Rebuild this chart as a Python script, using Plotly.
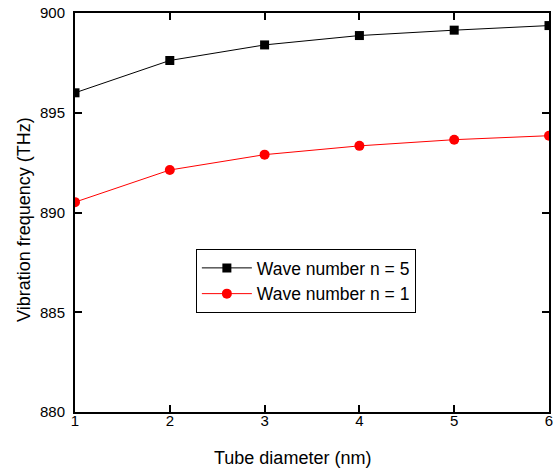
import plotly.graph_objects as go

diameter = [1, 2, 3, 4, 5, 6]
freq_n5 = [896.0, 897.62, 898.40, 898.87, 899.14, 899.37]
freq_n1 = [890.52, 892.13, 892.90, 893.34, 893.65, 893.85]

fig = go.Figure()
fig.add_trace(go.Scatter(
    x=diameter, y=freq_n5, mode="lines+markers", name="Wave number n = 5",
    line=dict(color="black", width=1),
    marker=dict(symbol="square", size=9, color="black"),
))
fig.add_trace(go.Scatter(
    x=diameter, y=freq_n1, mode="lines+markers", name="Wave number n = 1",
    line=dict(color="red", width=1),
    marker=dict(symbol="circle", size=10, color="red"),
))

axis_common = dict(
    showline=True, linecolor="black", linewidth=2, mirror="ticks",
    ticks="inside", ticklen=7, tickwidth=2, tickcolor="black",
    showgrid=False, zeroline=False, automargin=False,
    tickfont=dict(family="Liberation Sans, Arial", size=15, color="black"),
)

fig.update_layout(
    width=558, height=473,
    margin=dict(l=75, r=9, t=13, b=61, autoexpand=False),
    paper_bgcolor="white", plot_bgcolor="white",
    font=dict(family="Liberation Sans, Arial", color="black"),
    xaxis=dict(range=[1, 6], dtick=1, ticklabelstandoff=-6, **axis_common),
    yaxis=dict(range=[880, 900], dtick=5, ticklabelstandoff=5, **axis_common),
    legend=dict(x=(196 - 75) / 474.5, y=(412 - 249) / 399, xanchor="left", yanchor="top",
                bordercolor="black", borderwidth=1, bgcolor="white",
                font=dict(size=17.5), tracegroupgap=0, itemwidth=50),
    showlegend=True,
    annotations=[
        dict(text="Tube diameter (nm)", xref="paper", yref="paper",
             x=(293 - 75) / 474.5, y=-(458 - 412) / 399,
             xanchor="center", yanchor="middle", showarrow=False,
             font=dict(size=18)),
        dict(text="Vibration frequency (THz)", xref="paper", yref="paper",
             x=-(75 - 24) / 474.5, y=(412 - 220) / 399, textangle=-90,
             xanchor="center", yanchor="middle", showarrow=False,
             font=dict(size=18)),
    ],
)

fig.write_html("out.html", config={"displayModeBar": False},
               post_script="document.body.style.margin='0';")
